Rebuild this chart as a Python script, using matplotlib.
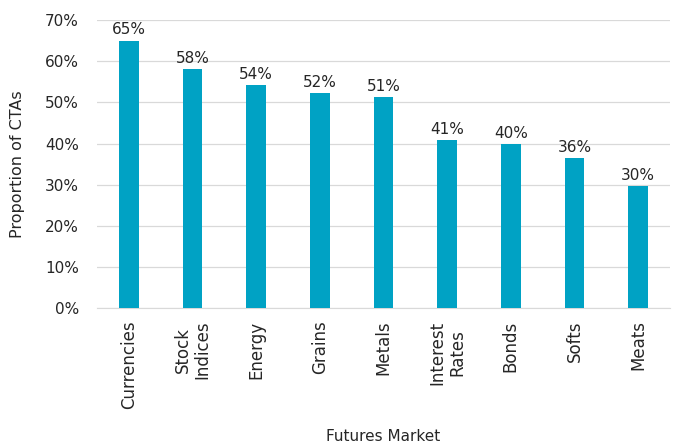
import matplotlib
matplotlib.use("Agg")
import matplotlib.pyplot as plt
from matplotlib.ticker import PercentFormatter

plt.rcParams['font.family'] = ['DejaVu Sans']

# data
markets = ['Currencies', 'Stock\nIndices', 'Energy', 'Grains', 'Metals',
           'Interest\nRates', 'Bonds', 'Softs', 'Meats']
share = [65.0, 58.1, 54.2, 52.3, 51.3, 40.9, 39.9, 36.4, 29.6]

bar_color = '#00A2C4'
text_color = '#262626'

fig = plt.figure(figsize=(6.83, 4.48), dpi=100)
ax = fig.add_axes([0.142, 0.3125, 0.839, 0.6425])

x = range(len(markets))
bars = ax.bar(x, share, width=0.31, color=bar_color, zorder=3)

for b, v in zip(bars, share):
    ax.text(b.get_x() + b.get_width() / 2, v + 0.8, f"{v:.0f}%",
            ha='center', va='bottom', fontsize=11, color=text_color)

ax.set_xlim(-0.5, len(markets) - 0.5)
ax.set_ylim(0, 70)
ax.set_yticks(range(0, 71, 10))
ax.yaxis.set_major_formatter(PercentFormatter(decimals=0))
ax.grid(axis='y', color='#d9d9d9', linewidth=0.9, zorder=0)

ax.set_xticks(list(x))
ax.set_xticklabels(markets, rotation=90, ha='center', va='top',
                   multialignment='center', fontsize=12, color=text_color,
                   linespacing=1.15)
ax.tick_params(axis='y', labelsize=11, labelcolor=text_color, length=0, pad=13)
ax.tick_params(axis='x', length=0, pad=9)

for side in ['top', 'right', 'left']:
    ax.spines[side].set_visible(False)
ax.spines['bottom'].set_color('#d9d9d9')

ax.set_ylabel('Proportion of CTAs', fontsize=11.5, color=text_color, labelpad=14)
fig.text(0.561, 0.008, 'Futures Market', ha='center', va='bottom',
         fontsize=11, color=text_color)

fig.savefig('out.png', dpi=100)
